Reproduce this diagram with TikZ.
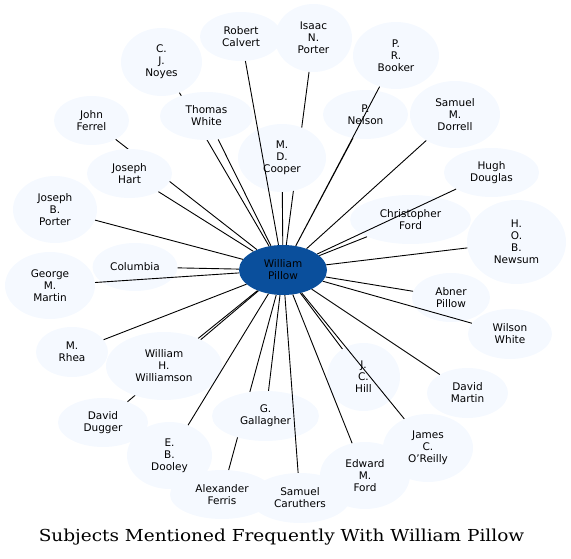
\documentclass[tikz,border=0pt]{standalone}
\usepackage{fontspec}
\setmainfont{DejaVu Sans}
\newfontfamily\titlefont[FakeStretch=1.12]{DejaVu Serif}
\usetikzlibrary{shapes.geometric}
\definecolor{pale}{HTML}{F5F9FF}
\definecolor{deepblue}{HTML}{0A4F9C}

\begin{document}
\begin{tikzpicture}[x=1pt,y=-1pt,subj/.style={ellipse,fill=pale,inner sep=0pt,align=center,font=\fontsize{10.5}{12}\selectfont},link/.style={line width=.9pt}]
\useasboundingbox (0,0) rectangle (571,559);
\node[subj,fill=deepblue,minimum width=88,minimum height=50] (P) at (283,270){William\\Pillow};
\node[subj,minimum width=81,minimum height=68] (noyes) at (161.5,62){C.\\J.\\Noyes};
\node[subj,minimum width=75,minimum height=49] (ferrel) at (91.5,120.5){John\\Ferrel};
\node[subj,minimum width=77,minimum height=68] (iporter) at (313.5,38){Isaac\\N.\\Porter};
\node[subj,minimum width=90,minimum height=49] (dugger) at (103,422.5){David\\Dugger};
\node[subj,minimum width=104,minimum height=49] (ferris) at (222,494.5){Alexander\\Ferris};
\draw[link] (P)--(noyes) (P)--(ferrel) (P)--(iporter) (P)--(dugger) (P)--(ferris);
\node[subj,minimum width=82,minimum height=49] (calvert) at (241,36.5){Robert\\Calvert};
\node[subj,minimum width=86,minimum height=67] (booker) at (396,55.5){P.\\R.\\Booker};
\node[subj,minimum width=93,minimum height=48] (twhite) at (206.5,116){Thomas\\White};
\node[subj,minimum width=85,minimum height=49] (nelson) at (365.5,114.5){P.\\Nelson};
\node[subj,minimum width=90,minimum height=67] (dorrell) at (455,114.5){Samuel\\M.\\Dorrell};
\node[subj,minimum width=88,minimum height=68] (cooper) at (282,158){M.\\D.\\Cooper};
\node[subj,minimum width=85,minimum height=49] (hart) at (129.5,173.5){Joseph\\Hart};
\node[subj,minimum width=95,minimum height=49] (douglas) at (491.5,172.5){Hugh\\Douglas};
\node[subj,minimum width=84,minimum height=67] (jbporter) at (55,209.5){Joseph\\B.\\Porter};
\node[subj,minimum width=121,minimum height=49] (cford) at (410.5,219.5){Christopher\\Ford};
\node[subj,minimum width=99,minimum height=84] (newsum) at (516.5,242){H.\\O.\\B.\\Newsum};
\node[subj,minimum width=85,minimum height=48] (columbia) at (135,267){Columbia};
\node[subj,minimum width=90,minimum height=67] (gmartin) at (50,285.5){George\\M.\\Martin};
\node[subj,minimum width=78,minimum height=49] (abner) at (451,297.5){Abner\\Pillow};
\node[subj,minimum width=84,minimum height=50] (wwhite) at (510,334){Wilson\\White};
\node[subj,minimum width=72,minimum height=50] (rhea) at (72,352){M.\\Rhea};
\node[subj,minimum width=116,minimum height=68] (williamson) at (164,366){William\\H.\\Williamson};
\node[subj,minimum width=73,minimum height=68] (hill) at (363.5,377){J.\\C.\\Hill};
\node[subj,minimum width=81,minimum height=50] (dmartin) at (467.5,393){David\\Martin};
\node[subj,minimum width=107,minimum height=50] (gallagher) at (265.5,416){G.\\Gallagher};
\node[subj,minimum width=90,minimum height=68] (oreilly) at (428,448){James\\C.\\O\char39 Reilly};
\node[subj,minimum width=85,minimum height=67] (dooley) at (169.5,455.5){E.\\B.\\Dooley};
\node[subj,minimum width=90,minimum height=67] (eford) at (365,475.5){Edward\\M.\\Ford};
\node[subj,minimum width=100,minimum height=50] (caruthers) at (300,498){Samuel\\Caruthers};
\draw[link] (P)--(calvert) (P)--(booker) (P)--(twhite) (P)--(nelson) (P)--(dorrell) (P)--(cooper) (P)--(hart) (P)--(douglas) (P)--(jbporter) (P)--(cford);
\draw[link] (P)--(newsum) (P)--(columbia) (P)--(gmartin) (P)--(abner) (P)--(wwhite) (P)--(rhea) (P)--(williamson) (P)--(hill) (P)--(dmartin);
\draw[link] (P)--(gallagher) (P)--(oreilly) (P)--(dooley) (P)--(eford) (P)--(caruthers);
\node[font=\titlefont\fontsize{16.5}{18}\selectfont,anchor=base] (title) at (281.5,541){Subjects Mentioned Frequently With William Pillow};
\end{tikzpicture}
\end{document}
